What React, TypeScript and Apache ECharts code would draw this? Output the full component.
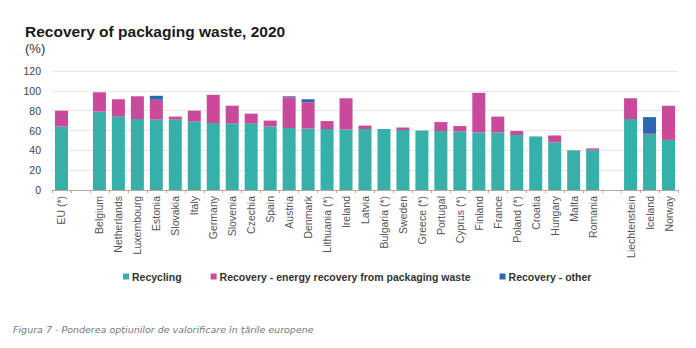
import React, { useEffect, useRef } from "react";
import * as echarts from "echarts";

const categories = [
  "EU (*)", "",
  "Belgium", "Netherlands", "Luxembourg", "Estonia", "Slovakia", "Italy", "Germany", "Slovenia", "Czechia",
  "Spain", "Austria", "Denmark", "Lithuania (*)", "Ireland", "Latvia", "Bulgaria (*)", "Sweden", "Greece (*)",
  "Portugal", "Cyprus (*)", "Finland", "France", "Poland (*)", "Croatia", "Hungary", "Malta", "Romania", " ",
  "Liechtenstein", "Iceland", "Norway",
];

const recycling = [
  64, null,
  79, 74, 71.5, 71, 71, 69, 67.5, 67, 67,
  64, 62.5, 62, 61.5, 61, 61.5, 61.5, 60.5, 60,
  59.5, 59, 58, 58, 55.5, 54, 48, 40, 40.5, null,
  71.5, 56.5, 50.5,
];

const energyRecovery = [
  16, null,
  19.5, 17.5, 23, 20, 3, 11, 28.5, 18, 10,
  6, 31, 26.5, 8, 31.5, 3.5, 0, 2.5, 0,
  9, 5.5, 40, 16, 4, 0, 7, 0, 1.5, null,
  21, 1, 34.5,
];

const otherRecovery = [
  0, null,
  0, 0, 0, 4, 0, 0, 0, 0, 0,
  0, 1, 3, 0, 0, 0, 0, 0, 0,
  0, 0, 0, 0, 0, 0, 0, 0, 0, null,
  0, 16, 0,
];

const yTicks = [0, 20, 40, 60, 80, 100, 120];

const seriesNames = [
  "Recycling",
  "Recovery - energy recovery from packaging waste",
  "Recovery - other",
];
const colors = ["#37b0aa", "#c9499b", "#2b68b1"];

export default function App() {
  const ref = useRef<HTMLDivElement>(null);

  useEffect(() => {
    if (!ref.current) return;
    const chart = echarts.init(ref.current, null, { renderer: "svg" });
    const data = [recycling, energyRecovery, otherRecovery];
    chart.setOption({
      animation: false,
      backgroundColor: "#ffffff",
      title: [
        {
          text: "Recovery of packaging waste, 2020",
          left: 20,
          top: 18,
          textStyle: { fontFamily: "Liberation Sans", fontWeight: "bold", fontSize: 15.5, color: "#1a1a1a" },
        },
        {
          text: "(%)",
          left: 20,
          top: 37,
          textStyle: { fontFamily: "Liberation Sans", fontWeight: "normal", fontSize: 13, color: "#333" },
        },
        {
          text: "Figura 7 - Ponderea opțiunilor de valorificare în țările europene",
          left: 8,
          top: 319,
          textStyle: { fontFamily: "DejaVu Sans", fontStyle: "italic", fontWeight: "normal", fontSize: 9.5, color: "#777" },
        },
      ],
      legend: {
        data: seriesNames,
        left: 118,
        top: 266,
        itemWidth: 6,
        itemHeight: 6,
        itemGap: 29,
        icon: "rect",
        textStyle: { fontFamily: "Liberation Sans", fontWeight: "bold", fontSize: 10.5, color: "#333", padding: [0, 0, 0, -2] },
      },
      grid: { left: 52, right: 18, top: 71, bottom: 158 },
      xAxis: {
        type: "category",
        data: categories,
        axisLine: { lineStyle: { color: "#b8a898", width: 1 } },
        axisTick: { show: true, alignWithLabel: false, length: 3, lineStyle: { color: "#b8a898" } },
        axisLabel: {
          rotate: 90,
          interval: 0,
          fontFamily: "Liberation Sans",
          fontSize: 10.5,
          color: "#555",
          margin: 6,
        },
      },
      yAxis: {
        type: "value",
        min: 0,
        max: 120,
        interval: 20,
        axisLine: { show: false },
        axisTick: { show: false },
        splitLine: { lineStyle: { color: "#e6e6e6", width: 1 } },
        axisLabel: {
          fontFamily: "Liberation Sans",
          fontSize: 10.5,
          color: "#444",
          margin: 11,
          customValues: yTicks,
        },
      },
      series: seriesNames.map((name, i) => ({
        name,
        type: "bar",
        stack: "total",
        barWidth: 13,
        itemStyle: { color: colors[i] },
        data: data[i],
      })),
    });
    return () => chart.dispose();
  }, []);

  return (
    <div
      ref={ref}
      style={{ position: "fixed", left: 0, top: 0, width: 696, height: 348 }}
    />
  );
}
